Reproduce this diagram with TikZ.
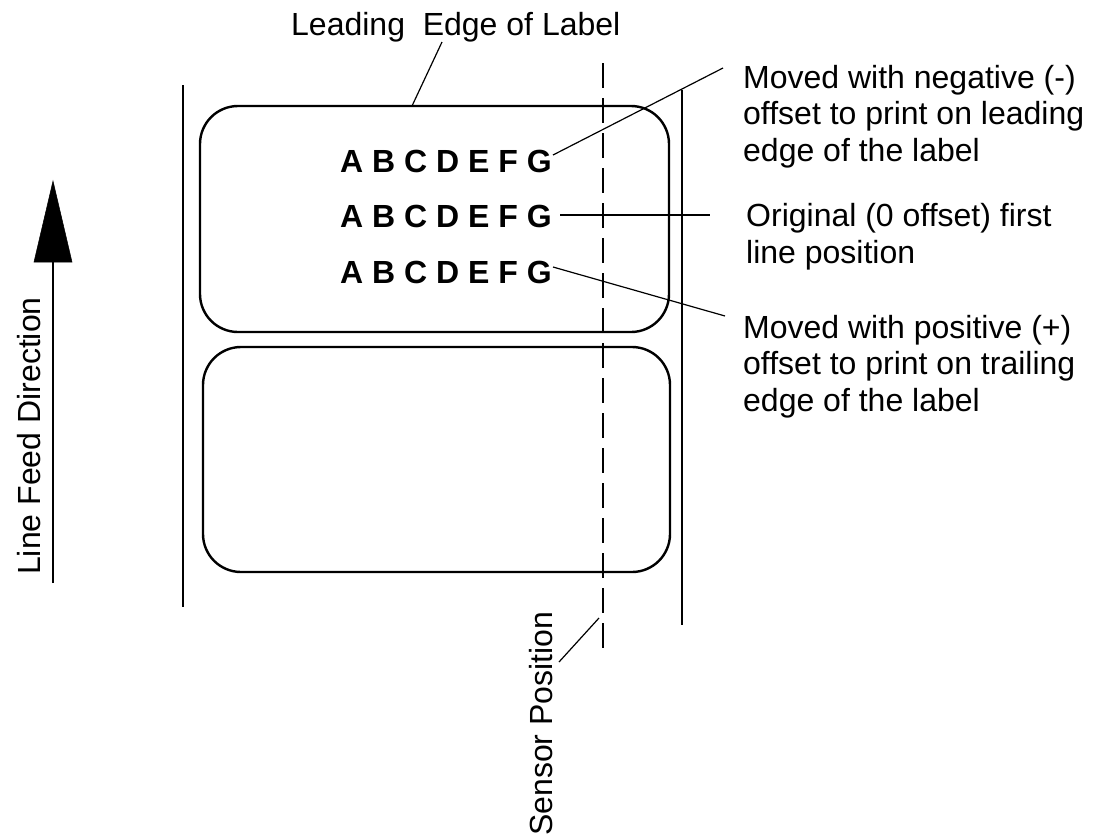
\documentclass[tikz,border=0pt]{standalone}
\usepackage{fontspec}
\setmainfont{Liberation Sans}
\begin{document}
\begin{tikzpicture}[x=1pt,y=-1pt,
  txt/.style={font=\fontsize{32}{36.5}\selectfont, inner sep=0pt, align=left},
  abc/.style={font=\fontsize{32}{36}\selectfont\bfseries, inner sep=0pt},
  labelbox/.style={draw, line width=2.4pt, rounded corners=38pt},
  guide/.style={line width=1.5pt},
  leader/.style={line width=1.2pt},
  sensor/.style={line width=1.5pt, dash pattern=on 25pt off 10pt},
  arrowhead/.style={fill=black, draw=black, line width=0.5pt}]
\useasboundingbox (0,0) rectangle (1096,839);

% paper edges
\draw[guide] (183,85) -- (183,607);
\draw[guide] (682,90) -- (682,625);

% labels
\draw[labelbox] (200,106) rectangle (669,332);
\draw[labelbox] (203,347) rectangle (670,572);

% sensor position line
\draw[sensor] (603,63) -- (603,648);

% title
\node[txt, anchor=base west] (lead) at (291,35) {Leading\ \ Edge of Label};
\coordinate (leadtop) at (442,42);
\coordinate (leadfoot) at (412,106);
\draw[leader] (leadtop) -- (leadfoot);

% print lines
\node[abc, anchor=base west] (r1) at (340,172) {A B C D E F G};
\node[abc, anchor=base west] (r2) at (340,227) {A B C D E F G};
\node[abc, anchor=base west] (r3) at (340,283) {A B C D E F G};

% explanations (base anchor = baseline of last line)
\node[txt, anchor=base west] (neg) at (743,161) {Moved with negative (-)\\offset to print on leading\\edge of the label};
\node[txt, anchor=base west] (orig) at (746,263) {Original (0 offset) first\\line position};
\node[txt, anchor=base west] (pos) at (743,411) {Moved with positive (+)\\offset to print on trailing\\edge of the label};

\coordinate (n1) at (553,155);
\coordinate (n2) at (723,68);
\coordinate (o1) at (560,215);
\coordinate (o2) at (710,215);
\coordinate (p1) at (553,267);
\coordinate (p2) at (725,316);
\draw[leader] (n1) -- (n2);
\draw[leader] (o1) -- (o2);
\draw[leader] (p1) -- (p2);

% sensor label
\node[txt, rotate=90, anchor=base west] (sens) at (552,836) {Sensor Position};
\coordinate (s1) at (599,618);
\coordinate (s2) at (559,662);
\draw[leader] (s1) -- (s2);

% line feed direction
\node[txt, rotate=90, anchor=base west] (lfd) at (40,575) {Line Feed Direction};
\coordinate (tip) at (53,181);
\coordinate (tail) at (53,583);
\fill[arrowhead] (tip) -- (72,262) -- (34,262) -- cycle;
\draw[guide] (tail) -- (53,262);
\end{tikzpicture}
\end{document}
